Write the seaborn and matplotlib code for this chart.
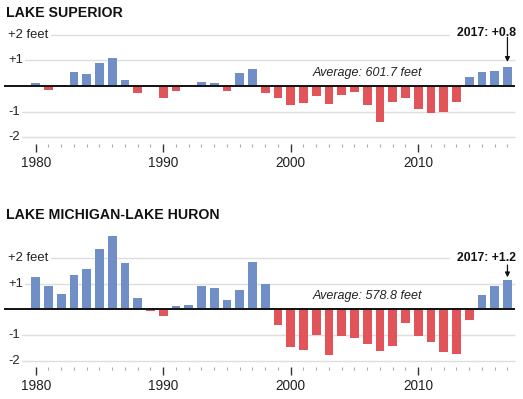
import numpy as np
import pandas as pd
import matplotlib
matplotlib.use("Agg")
import matplotlib.pyplot as plt
import matplotlib.transforms as mtransforms
import seaborn as sns

years = list(range(1980, 2018))
superior = [0.12, -0.14, 0.05, 0.55, 0.45, 0.88, 1.08, 0.22, -0.28, 0.0,
            -0.47, -0.20, 0.0, 0.16, 0.12, -0.20, 0.49, 0.65, -0.28, -0.47,
            -0.75, -0.68, -0.41, -0.71, -0.34, -0.24, -0.75, -1.41, -0.64, -0.47,
            -0.88, -1.04, -1.01, -0.61, 0.34, 0.55, 0.59, 0.75]
michigan_huron = [1.25, 0.91, 0.58, 1.34, 1.58, 2.34, 2.88, 1.82, 0.45, -0.08,
                  -0.25, 0.14, 0.18, 0.91, 0.84, 0.36, 0.75, 1.86, 0.97, -0.62,
                  -1.47, -1.58, -1.01, -1.78, -1.04, -1.11, -1.36, -1.61, -1.42, -0.55,
                  -1.05, -1.28, -1.67, -1.75, -0.41, 0.54, 0.91, 1.14]
titles = ["LAKE SUPERIOR", "LAKE MICHIGAN-LAKE HURON"]
averages = ["Average: 601.7 feet", "Average: 578.8 feet"]
callouts = ["2017: +0.8", "2017: +1.2"]
ytick_vals = [2, 1, -1, -2]
ytick_labels = ["+2 feet", "+1", "-1", "-2"]
year_labels = [1980, 1990, 2000, 2010]

BLUE = "#6f8fc6"
RED = "#e0545a"
W, H = 523, 399
PX_YEAR = 12.75
X0 = 35.7
PX_FT = 25.6

sns.set_theme(style="white")
plt.rcParams["font.family"] = ["Liberation Sans", "DejaVu Sans"]

fig = plt.figure(figsize=(W / 100, H / 100), dpi=100)

# per panel: (axes top px, axes bottom px, zero px, title y px, callout text y, arrow start y, arrow gap)
panels = [
    (superior, 20, 144.0, 86.0, 13, 33.3, 37.3, 0.19),
    (michigan_huron, 220, 366.7, 309.3, 215, 258.3, 265.0, 0.11),
]

def xd(px):
    return (px - X0) / PX_YEAR

for k, (vals, top_px, bot_px, zero_px, title_y, call_y, arr_y, gap) in enumerate(panels):
    ax = fig.add_axes([0, 1 - bot_px / H, 1, (bot_px - top_px) / H])
    df = pd.DataFrame({"year": years, "value": vals})
    df["sign"] = np.where(df["value"] >= 0, "pos", "neg")
    sns.barplot(data=df, x="year", y="value", hue="sign", order=years,
                hue_order=["pos", "neg"], palette={"pos": BLUE, "neg": RED},
                dodge=False, width=0.68, saturation=1, linewidth=0,
                legend=False, ax=ax, zorder=2)
    ax.set_xlim(xd(0), xd(W))
    ax.set_ylim(-(bot_px - zero_px) / PX_FT, (zero_px - top_px) / PX_FT)
    for s in ax.spines.values():
        s.set_visible(False)
    ax.set_xlabel("")
    ax.set_ylabel("")
    ax.set_yticks([])

    # gridlines and zero line
    ax.hlines(ytick_vals, xd(6), xd(515), color="#dedede", lw=1.0, zorder=0)
    ax.hlines([0], xd(4), xd(515), color="#111111", lw=1.4, zorder=3)

    # y labels
    trans = mtransforms.blended_transform_factory(ax.transAxes, ax.transData)
    for v, lab in zip(ytick_vals, ytick_labels):
        ax.text(8 / W, v, lab, transform=trans, ha="left", va="center",
                fontsize=9.4, color="#222222", zorder=1,
                bbox=dict(boxstyle="square,pad=0.2", fc="white", ec="none"))

    # x ticks
    major = [years.index(y) for y in year_labels]
    minor = [i for i in range(len(years)) if i not in major]
    ax.set_xticks(major)
    ax.set_xticklabels([str(y) for y in year_labels])
    ax.set_xticks(minor, minor=True)
    ax.tick_params(axis="x", which="major", length=5.6, width=1.0, color="#333333",
                   direction="out", pad=3, labelsize=9.8, labelcolor="#222222", bottom=True)
    ax.tick_params(axis="x", which="minor", length=2.4, width=0.8, color="#aaaaaa",
                   direction="out", bottom=True)

    # average label
    ax.text(years.index(2006), 0.5, averages[k], ha="center", va="center",
            fontsize=9, style="italic", color="#222222", zorder=4)

    # callout
    last = len(years) - 1
    ax.text(xd(516), (zero_px - call_y) / PX_FT, callouts[k], ha="right", va="center",
            fontsize=8.8, fontweight="bold", color="#111111", zorder=1,
            bbox=dict(boxstyle="square,pad=0.6", fc="white", ec="none"))
    ax.annotate("", xy=(last, vals[-1] + gap), xytext=(last, (zero_px - arr_y) / PX_FT),
                arrowprops=dict(arrowstyle="-|>", color="#111111", lw=0.9,
                                mutation_scale=7, shrinkA=0, shrinkB=0), zorder=4)

    fig.text(6 / W, 1 - title_y / H, titles[k], ha="left", va="center",
             fontsize=10.2, fontweight="bold", color="#111111")

fig.savefig("out.png", dpi=100)
